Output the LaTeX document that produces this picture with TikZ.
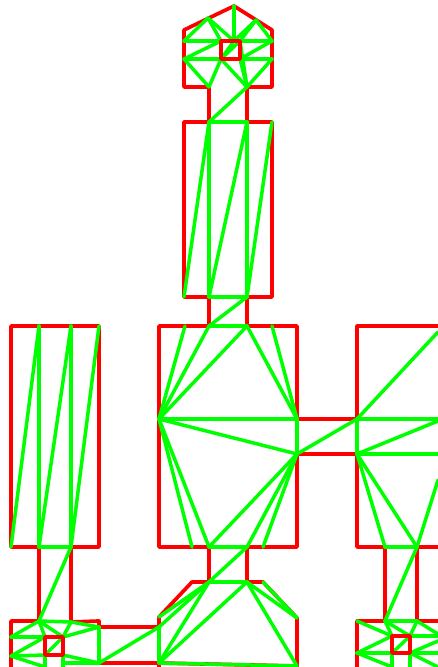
\documentclass[tikz,border=0pt]{standalone}
\definecolor{wallred}{RGB}{255,0,0}
\definecolor{meshgreen}{RGB}{0,255,0}
\tikzset{
  wall/.style={draw=wallred,line width=3.7pt,line join=round,line cap=round},
  mesh/.style={draw=meshgreen,line width=3.5pt,line cap=round},
}
\begin{document}
\begin{tikzpicture}[x=1pt,y=-1pt]
\useasboundingbox (0,0) rectangle (438,667);
\clip (0,0) rectangle (438,667);
% top house
\foreach \n/\x/\y in {
 ap/234/6, ha/208/18, hb/256/20, hl/184/30, hr/272/30,
 la/184/41, lb/184/59, ra/272/41, rb/272/59,
 tl/221/41, tr/240/41, tm/234/41, bl/221/59, br/240/59,
 hc/209/87, hd/247/87, he/184/87, hf/272/87,
 % tall rectangle
 ra1/209/122, ra2/247/122, ra3/184/122, ra4/272/122,
 rb1/209/297, rb2/247/297, rb3/184/297, rb4/272/297,
 % big rectangle
 m1/159/326, m2/185/326, m3/209/326, m4/247/326, m5/272/326, m6/297/326,
 ml/159/419, mr/297/419, ms/297/454,
 n1/159/547, n2/192/547, n3/209/547, n4/247/547, n5/263/547, n6/297/547,
 % right rectangle
 q1/357/326, q2/438/326, qa/357/419, qb/357/454, qe/438/332, qf/438/419, qg/438/454, qh/438/480, qi/438/421,
 s1/357/547, s2/385/547, s3/417/547, s4/438/547,
 % left rectangle
 l1/11/326, l2/39/326, l3/71/326, l4/99/326,
 l5/11/547, l6/39/547, l7/71/547, l8/99/547,
 % bottom left room
 u1/11/621, u2/39/621, u3/71/622, u4/99/621, u5/99/627, u6/99/663,
 ua/11/637, ub/11/656, uc/11/667,
 v1/45/637, v2/63/637, v3/45/655, v4/63/655,
 v5/45/667, v6/63/667, v7/63/663,
 % bottom middle room
 w1/159/627, w2/159/663, w3/159/617, w4/192/582, w5/209/582, w6/247/582, w7/263/582, w8/297/618, w9/297/666, w10/159/667, w11/297/667,
 % bottom right room
 x1/357/621, x2/385/621, x3/417/621, x4/438/621, x5/357/653, x6/357/667,
 y1/392/636, y2/410/636, y3/392/653, y4/410/653, y5/392/667, y6/410/667,
 z1/438/634, z2/438/636, z3/438/641, z4/438/653, z5/438/667}{\coordinate (\n) at (\x,\y);}
% walls
\draw[wall] (ra1)--(hc)--(he)--(hl)--(ap)--(hr)--(hf)--(hd)--(ra2);
\draw[wall] (ra1)--(ra3)--(rb3)--(rb1)--(m3);
\draw[wall] (ra2)--(ra4)--(rb4)--(rb2)--(m4);
\draw[wall] (m3)--(m1)--(n1)--(n3)--(w5)--(w4)--(w3)--(w1)--(u5)--(u4)--(u3)--(l7)--(l8)--(l4)--(l1)--(l5)--(l6)--(u2)--(u1)--(uc);
\draw[wall] (m4)--(m6)--(mr)--(qa)--(q1)--(q2);
\draw[wall] (n4)--(n6)--(ms)--(qb)--(s1)--(s2)--(x2)--(x1)--(x6);
\draw[wall] (n4)--(w6)--(w7)--(w8)--(w11);
\draw[wall] (u5)--(u6)--(w2)--(w10);
\draw[wall] (w2)--(w9);
\draw[wall] (s3)--(s4);
\draw[wall] (s3)--(x3)--(x4);
% mesh
\foreach \a/\b in {
 ap/tm, ha/la, ha/tl, ha/tm, hb/tm, hb/tr, hb/ra, la/tl, ra/tr, ra/br, rb/br,
 rb/hd, br/hd, tr/hd, bl/hd, bl/hc, lb/hc, lb/bl, lb/tl, tm/bl, tr/bl,
 hd/ra1, ra1/ra2, ra1/rb3, ra1/rb1, ra2/rb1, ra2/rb2, ra4/rb2, rb1/rb2, rb2/m3,
 m3/m4, ml/m2, ml/m3, ml/m4, m4/mr, m5/mr, ml/mr, mr/ms, ml/ms, ml/n2, ml/n3, n3/n4,
 n3/ms, n4/ms, n5/ms, ms/qa, qa/qb, qa/qe, qa/qf, qb/qi, qb/qg, qb/s2, qb/s3, s2/s3, s3/qh,
 s3/x2,
 l2/l5, l2/l6, l3/l6, l3/l7, l4/l7, l6/l7, l7/u2,
 ua/u2, ua/v1, u2/v1, u2/v2, u2/u3, u3/v2, u3/u5, v2/u5, v2/v3, ub/v1, ub/v3, ub/v5,
 v3/v5, v4/v6, v4/u6, v7/u6, u5/u6, u6/w1, w1/w5, w1/w2,
 n4/w5, w5/w6, w2/w5, w2/w6, w3/w5, w6/w9, w6/w8, w7/w8, w2/w9,
 x1/y1, x5/y1, x5/y3, x5/y5, x2/y1, x2/y2, x2/x3, x3/y2, x3/z1, y2/z2, y2/y3, y4/z3, y4/z4, y4/z5, y3/y5, y4/y6}{\draw[mesh] (\a)--(\b);}
% inner squares drawn over the mesh
\draw[wall] (tl) rectangle (br);
\draw[wall] (v1) rectangle (v4);
\draw[wall] (y1) rectangle (y4);
\end{tikzpicture}
\end{document}
